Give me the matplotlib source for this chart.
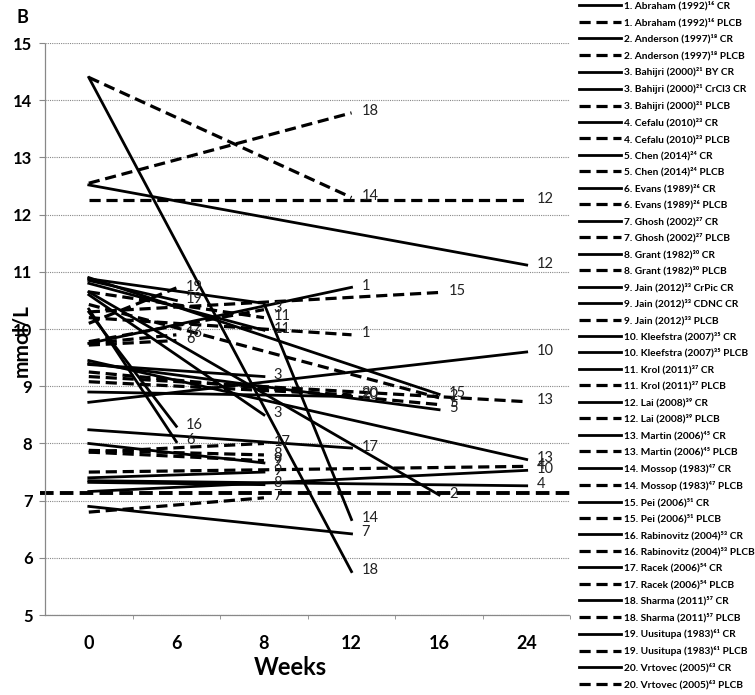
import matplotlib
matplotlib.use("Agg")
import matplotlib.pyplot as plt
import numpy as np

plt.rcParams.update({"font.family": ["Lato", "DejaVu Sans"]})

# ── Data ────────────────────────────────────────────────────────────────
WEEKS = [0, 6, 8, 12, 16, 24]          # categorical x axis

STUDY_NUM = [1, 1, 2, 2, 3, 3, 3, 4, 4, 5, 5, 6, 6, 7, 7, 8, 8, 9, 9, 9, 10,
             10, 11, 11, 12, 12, 13, 13, 14, 14, 15, 15, 16, 16, 17, 17, 18,
             18, 19, 19, 20, 20]
STUDY_NAME = ["Abraham (1992)", "Abraham (1992)", "Anderson (1997)", "Anderson (1997)",
              "Bahijri (2000)", "Bahijri (2000)", "Bahijri (2000)",
              "Cefalu (2010)", "Cefalu (2010)", "Chen (2014)", "Chen (2014)",
              "Evans (1989)", "Evans (1989)", "Ghosh (2002)", "Ghosh (2002)",
              "Grant (1982)", "Grant (1982)",
              "Jain (2012)", "Jain (2012)", "Jain (2012)",
              "Kleefstra (2007)", "Kleefstra (2007)", "Krol (2011)", "Krol (2011)",
              "Lai (2008)", "Lai (2008)", "Martin (2006)", "Martin (2006)",
              "Mossop (1983)", "Mossop (1983)", "Pei (2006)", "Pei (2006)",
              "Rabinovitz (2004)", "Rabinovitz (2004)", "Racek (2006)", "Racek (2006)",
              "Sharma (2011)", "Sharma (2011)", "Uusitupa (1983)", "Uusitupa (1983)",
              "Vrtovec (2005)", "Vrtovec (2005)"]
REF_NUM = [16, 16, 18, 18, 21, 21, 21, 23, 23, 24, 24, 26, 26, 27, 27, 30, 30,
           33, 33, 33, 35, 35, 37, 37, 39, 39, 45, 45, 47, 47, 51, 51, 53, 53,
           54, 54, 57, 57, 61, 61, 63, 63]
ARM = ["CR", "PLCB", "CR", "PLCB", "BY CR", "CrCl3 CR", "PLCB", "CR", "PLCB",
       "CR", "PLCB", "CR", "PLCB", "CR", "PLCB", "CR", "PLCB",
       "CrPic CR", "CDNC CR", "PLCB", "CR", "PLCB", "CR", "PLCB", "CR", "PLCB",
       "CR", "PLCB", "CR", "PLCB", "CR", "PLCB", "CR", "PLCB", "CR", "PLCB",
       "CR", "PLCB", "CR", "PLCB", "CR", "PLCB"]

# fasting glucose (mmol/L) at baseline, end week and value at end
BASELINE = [9.75, 10.2, 10.65, 10.43, 10.6, 9.38, 9.78, 7.35, 7.5, 9.4, 9.25,
            10.35, 9.72, 6.9, 6.8, 7.32, 7.88, 8.0, 7.4, 7.85, 8.72, 7.16,
            10.8, 10.65, 12.52, 12.25, 9.45, 9.17, 10.88, 14.4, 10.9, 10.3,
            10.3, 9.75, 8.24, 7.85, 14.4, 12.55, 10.85, 10.1, 8.9, 9.08]
END_WEEK = [12, 12, 16, 16, 8, 8, 8, 24, 24, 16, 16, 6, 6, 12, 8, 8, 8,
            8, 8, 8, 24, 24, 8, 8, 24, 24, 24, 24, 12, 12, 16, 16, 6, 6,
            12, 8, 12, 12, 6, 6, 12, 12]
END_VALUE = [10.73, 9.9, 7.1, 8.8, 8.5, 9.17, 10.34, 7.26, 7.6, 8.59, 8.68,
             8.03, 9.8, 6.42, 7.05, 7.28, 7.8, 7.66, 7.5, 7.7, 9.6, 7.53,
             9.98, 10.2, 11.12, 12.25, 7.72, 8.73, 6.67, 12.3, 8.86, 10.64,
             8.3, 9.9, 7.92, 8.0, 5.76, 13.78, 10.5, 10.72, 8.82, 8.85]
# intermediate measurements: series index -> (week, value)
MID_POINTS = {28: (8, 10.45)}

REF_LEVEL = 7.13   # thick dashed reference line

DASHED = [a == "PLCB" for a in ARM]
DASHED[21] = False  # Kleefstra PLCB drawn solid in the original

SUP = str.maketrans("0123456789", "⁰¹²³⁴⁵⁶⁷⁸⁹")

# ── Plot ────────────────────────────────────────────────────────────────
fig = plt.figure(figsize=(7.55, 6.95), dpi=100)
ax = fig.add_axes([0.0596, 0.115, 0.696, 0.823])

pos = {w: i for i, w in enumerate(WEEKS)}
handles = []
for i in range(len(STUDY_NUM)):
    pts = [(0, BASELINE[i])]
    if i in MID_POINTS:
        pts.append(MID_POINTS[i])
    pts.append((END_WEEK[i], END_VALUE[i]))
    xs = [pos[w] for w, _ in pts]
    ys = [v for _, v in pts]
    label = f"{STUDY_NUM[i]}. {STUDY_NAME[i]}{str(REF_NUM[i]).translate(SUP)} {ARM[i]}"
    if DASHED[i]:
        ln, = ax.plot(xs, ys, color="black", lw=2.3, ls=(0, (3.5, 1.8)),
                      solid_capstyle="butt", label=label)
    else:
        ln, = ax.plot(xs, ys, color="black", lw=2.0, label=label)
    handles.append(ln)
    ax.annotate(str(STUDY_NUM[i]), (xs[-1], ys[-1]), xytext=(7, 1),
                textcoords="offset points", va="center", ha="left",
                fontsize=10.5, color="#222222")

ax.axhline(REF_LEVEL, xmin=-0.01, xmax=1.0, color="black", lw=2.8,
           ls=(0, (3.5, 1.6)), clip_on=False)

ax.set_xlim(-0.5, len(WEEKS) - 0.5)
ax.set_ylim(5, 15)
ax.set_xticks(range(len(WEEKS)))
ax.set_xticklabels([str(w) for w in WEEKS], fontweight="bold", fontsize=13)
ax.set_xticks(np.arange(len(WEEKS)) + 0.5, minor=True)
ax.tick_params(axis="x", which="major", length=0, pad=14)
ax.tick_params(axis="x", which="minor", length=3, color="#888888", direction="out")
ax.set_yticks(range(5, 16))
ax.set_yticklabels([str(v) for v in range(5, 16)], fontweight="bold", fontsize=12)
ax.tick_params(axis="y", length=4, color="#888888", pad=5)

ax.grid(axis="y", color="#888888", ls=(0, (1, 1)), lw=0.8)
for s in ["top", "right"]:
    ax.spines[s].set_visible(False)
for s in ["left", "bottom"]:
    ax.spines[s].set_color("#888888")
    ax.spines[s].set_linestyle((0, (1, 1)))
    ax.spines[s].set_linewidth(0.9)

ax.set_xlabel("Weeks", fontweight="bold", fontsize=17)
ax.xaxis.set_label_coords(0.467, -0.072)
ax.set_ylabel("mmol/L", fontweight="bold", fontsize=15)
ax.yaxis.set_label_coords(-0.026, 0.48)

fig.text(0.022, 0.975, "B", fontweight="bold", fontsize=13, va="center")

fig.legend(handles=handles, loc="upper left", bbox_to_anchor=(0.764, 1.001),
           frameon=False, prop={"weight": "bold", "size": 7.3},
           handlelength=4.2, handletextpad=0.3, labelspacing=0.685,
           borderaxespad=0, borderpad=0.2)

fig.savefig("out.png", dpi=100)
